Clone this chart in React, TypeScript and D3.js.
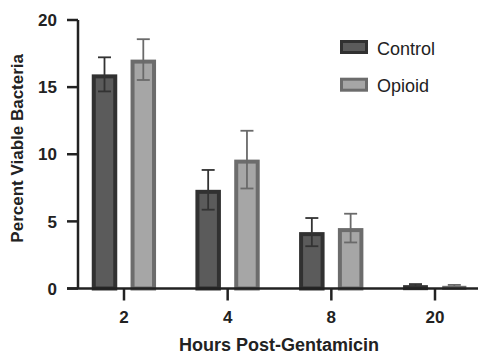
import React from "react";
import * as d3 from "d3";

const categories = ["2", "4", "8", "20"];
const seriesNames = ["Control", "Opioid"];
const controlMeans = [15.95, 7.35, 4.2, 0.25];
const controlErrors = [1.27, 1.48, 1.05, 0.08];
const opioidMeans = [17.05, 9.6, 4.5, 0.2];
const opioidErrors = [1.52, 2.15, 1.07, 0.07];
const yTicks = [0, 5, 10, 15, 20];

const W = 478;
const H = 354;
const FONT = "'Liberation Sans', Arial, Helvetica, sans-serif";

const styles = [
  { fill: "#5b5b5b", stroke: "#313131", err: "#333333" },
  { fill: "#a6a6a6", stroke: "#6c6c6c", err: "#6a6a6a" },
];

export default function App() {
  const x = d3.scalePoint<string>().domain(categories).range([124, 435]);
  const y = d3.scaleLinear().domain([0, 20]).range([288.5, 20]);
  const offset = d3.scalePoint<number>().domain([0, 1]).range([-19.5, 19.3]);
  const barW = 25.5;
  const sw = 4;
  const series = [
    { means: controlMeans, errs: controlErrors },
    { means: opioidMeans, errs: opioidErrors },
  ];
  const axisColor = "#222";
  const y0 = y(0);

  return (
    <svg
      width={W}
      height={H}
      style={{ position: "absolute", left: 0, top: 0, background: "#fff" }}
      fontFamily={FONT}
    >
      {/* bars */}
      {series.map((s, si) =>
        categories.map((c, ci) => {
          const cx = (x(c) as number) + (offset(si) as number);
          const top = y(s.means[ci]);
          const h = y0 - top;
          const st = styles[si];
          const inset = Math.min(sw / 2, h / 2);
          return (
            <rect
              key={`b${si}-${ci}`}
              x={cx - barW / 2 + sw / 2}
              y={top + inset}
              width={barW - sw}
              height={Math.max(h - inset, 0)}
              fill={st.fill}
              stroke={st.stroke}
              strokeWidth={Math.min(sw, h)}
            />
          );
        })
      )}
      {/* error bars */}
      {series.map((s, si) =>
        categories.map((c, ci) => {
          const cx = (x(c) as number) + (offset(si) as number);
          const hi = y(s.means[ci] + s.errs[ci]);
          const lo = y(s.means[ci] - s.errs[ci]);
          const st = styles[si];
          const cw = 6.5;
          return (
            <g key={`e${si}-${ci}`} stroke={st.err} strokeWidth={1.8}>
              <line x1={cx} x2={cx} y1={hi} y2={lo} />
              <line x1={cx - cw} x2={cx + cw} y1={hi} y2={hi} />
              <line x1={cx - cw} x2={cx + cw} y1={lo} y2={lo} />
            </g>
          );
        })
      )}
      {/* y axis */}
      <line x1={78} x2={78} y1={y(20)} y2={y0} stroke={axisColor} strokeWidth={2.5} />
      {yTicks.map((t) => (
        <g key={`yt${t}`}>
          <line x1={67} x2={78} y1={y(t)} y2={y(t)} stroke={axisColor} strokeWidth={2.5} />
          <text
            x={57}
            y={y(t) + 6.2}
            textAnchor="end"
            fontSize={17}
            fontWeight="bold"
            fill="#222"
          >
            {t}
          </text>
        </g>
      ))}
      {/* x axis */}
      <line x1={67} x2={478} y1={y0} y2={y0} stroke={axisColor} strokeWidth={2.5} />
      {categories.map((c) => (
        <g key={`xt${c}`}>
          <line
            x1={x(c) as number}
            x2={x(c) as number}
            y1={y0}
            y2={y0 + 12}
            stroke={axisColor}
            strokeWidth={2.5}
          />
          <text
            x={x(c) as number}
            y={323.3}
            textAnchor="middle"
            fontSize={17}
            fontWeight="bold"
            fill="#222"
          >
            {c}
          </text>
        </g>
      ))}
      {/* axis titles */}
      <text
        x={279}
        y={350.5}
        textAnchor="middle"
        fontSize={18}
        fontWeight="bold"
        fill="#222"
      >
        Hours Post-Gentamicin
      </text>
      <text
        transform={`translate(23.3,148.3) rotate(-90)`}
        textAnchor="middle"
        fontSize={17}
        fontWeight="bold"
        fill="#222"
      >
        Percent Viable Bacteria
      </text>
      {/* legend */}
      {seriesNames.map((n, i) => {
        const top = i === 0 ? 40 : 77.7;
        const st = styles[i];
        return (
          <g key={`lg${n}`}>
            <rect
              x={341.5}
              y={top + 1.5}
              width={25}
              height={11}
              fill={st.fill}
              stroke={st.stroke}
              strokeWidth={3}
            />
            <text x={377} y={top + 14.5} fontSize={18} fill="#222">
              {n}
            </text>
          </g>
        );
      })}
    </svg>
  );
}
